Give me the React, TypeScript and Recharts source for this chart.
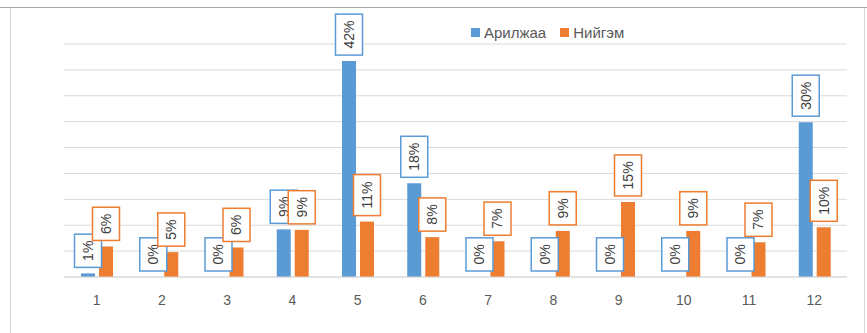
import React from "react";
import { BarChart, Bar, CartesianGrid, XAxis, YAxis, LabelList } from "recharts";

const categories = ["1", "2", "3", "4", "5", "6", "7", "8", "9", "10", "11", "12"];
const trade = [0.7, 0, 0, 9.2, 41.7, 18.1, 0, 0, 0, 0, 0, 29.9];
const social = [5.9, 4.8, 5.7, 9.1, 10.7, 7.7, 6.9, 8.9, 14.5, 8.9, 6.7, 9.6];
const yTicks = [0, 5, 10, 15, 20, 25, 30, 35, 40, 45];

const BLUE = "#5B9BD5";
const ORANGE = "#ED7D31";
const FONT = "'Liberation Sans', Arial, sans-serif";
const BAR_SIZE = 14;
const BAR_GAP = 4;

const data = categories.map((c, i) => ({ cat: c, trade: trade[i], social: social[i] }));

// rough text width for Liberation Sans 14px
function textWidth(s: string) {
  let w = 0;
  for (const ch of s) w += ch === "%" ? 12.4 : 7.8;
  return w;
}

function Box({ cx, top, value, color }: { cx: number; top: number; value: number; color: string }) {
  const txt = `${Math.round(value)}%`;
  const h = textWidth(txt) + 13;
  const w = 27;
  const bottom = top - 6;
  const cy = bottom - h / 2;
  return (
    <g>
      <rect x={cx - w / 2} y={bottom - h} width={w} height={h} fill="#ffffff" stroke={color} strokeWidth={1.5} />
      <text
        x={cx}
        y={cy}
        transform={`rotate(-90 ${cx} ${cy})`}
        textAnchor="middle"
        dominantBaseline="central"
        fontFamily={FONT}
        fontSize={14}
        fill="#404040"
      >
        {txt}
      </text>
    </g>
  );
}

// zero-height blue bars get no label from recharts, so both labels are drawn
// from the orange bar: its top/height give the baseline and the px-per-unit
function PairLabels(props: any) {
  const { x, y, width, height, index } = props;
  const i = Number(index);
  const base = Number(y) + Number(height);
  const perUnit = Number(height) / social[i];
  const ox = Number(x) + Number(width) / 2;
  const bx = ox - BAR_SIZE - BAR_GAP;
  return (
    <g>
      <Box cx={bx} top={base - trade[i] * perUnit} value={trade[i]} color={BLUE} />
      <Box cx={ox} top={Number(y)} value={social[i]} color={ORANGE} />
    </g>
  );
}

function LegendBox() {
  const item = (color: string, label: string) => (
    <div style={{ display: "flex", alignItems: "center", gap: 4 }}>
      <div style={{ width: 9, height: 9, background: color }} />
      <span style={{ fontFamily: FONT, fontSize: 15, color: "#595959" }}>{label}</span>
    </div>
  );
  return (
    <div style={{ position: "absolute", left: 471, top: 24, display: "flex", gap: 14 }}>
      {item(BLUE, "Арилжаа")}
      {item(ORANGE, "Нийгэм")}
    </div>
  );
}

export default function App() {
  return (
    <div style={{ position: "fixed", left: 0, top: 0, width: 867, height: 333, background: "#ffffff", overflow: "hidden" }}>
      <div style={{ position: "absolute", left: 0, top: 7, width: 867, height: 1, background: "#a6a6a6" }} />
      <div style={{ position: "absolute", left: 10, top: 8, width: 853, height: 340, borderLeft: "1px solid #d9d9d9", borderRight: "1px solid #d9d9d9" }} />
      <div style={{ position: "absolute", left: 0, top: 0 }}>
        <BarChart
          width={867}
          height={333}
          data={data}
          barSize={BAR_SIZE}
          barGap={BAR_GAP}
          margin={{ top: 44, right: 20, left: 64, bottom: 26 }}
        >
          <CartesianGrid vertical={false} stroke="#d9d9d9" />
          <YAxis hide domain={[0, 45]} ticks={yTicks} />
          <XAxis
            dataKey="cat"
            height={30}
            axisLine={{ stroke: "#d9d9d9" }}
            tickLine={false}
            tickMargin={12}
            tick={{ fontFamily: FONT, fontSize: 14, fill: "#595959" }}
          />
          <Bar dataKey="trade" name="Арилжаа" fill={BLUE} isAnimationActive={false} />
          <Bar dataKey="social" name="Нийгэм" fill={ORANGE} isAnimationActive={false}>
            <LabelList dataKey="social" content={PairLabels} />
          </Bar>
        </BarChart>
      </div>
      <LegendBox />
    </div>
  );
}
